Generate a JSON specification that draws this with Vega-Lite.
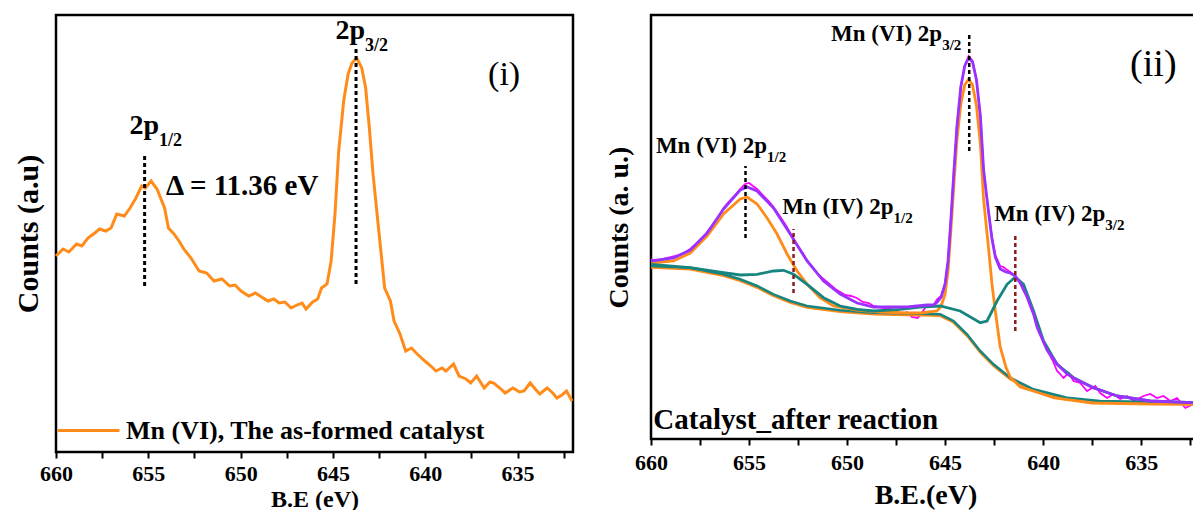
{
  "$schema": "https://vega.github.io/schema/vega-lite/v6.json",
  "padding": {"left": 11, "top": 13, "right": 0, "bottom": 0},
  "spacing": 23,
  "config": {
    "view": {"stroke": "black", "strokeWidth": 2.5},
    "axis": {"labelFont": "Liberation Serif", "titleFont": "Liberation Serif", "labelFontWeight": "bold", "titleFontWeight": "bold", "labelColor": "black", "titleColor": "black", "tickColor": "black", "grid": false, "domain": false},
    "text": {"font": "Liberation Serif", "fontWeight": "bold", "color": "black"}
  },
  "datasets": {
    "left": [
      {"eV":660.0,"c":196},{"eV":659.62,"c":203},{"eV":659.3,"c":200},{"eV":658.89,"c":208},{"eV":658.6,"c":206},{"eV":658.27,"c":214},{"eV":657.9,"c":219},{"eV":657.64,"c":223},{"eV":657.3,"c":221},{"eV":657.02,"c":224},{"eV":656.71,"c":238},{"eV":656.3,"c":236},{"eV":655.99,"c":244},{"eV":655.67,"c":254},{"eV":655.36,"c":266},{"eV":655.16,"c":264},{"eV":654.85,"c":271},{"eV":654.53,"c":263},{"eV":654.12,"c":244},{"eV":653.91,"c":224},{"eV":653.61,"c":218},{"eV":653.3,"c":210},{"eV":653.08,"c":203},{"eV":652.69,"c":194},{"eV":652.25,"c":181},{"eV":651.84,"c":179},{"eV":651.44,"c":171},{"eV":651.01,"c":173},{"eV":650.60,"c":166},{"eV":650.3,"c":167},{"eV":649.98,"c":161},{"eV":649.56,"c":156},{"eV":649.2,"c":159},{"eV":648.95,"c":156},{"eV":648.52,"c":151},{"eV":648.2,"c":153},{"eV":647.92,"c":149},{"eV":647.6,"c":150},{"eV":647.27,"c":144},{"eV":646.95,"c":147},{"eV":646.67,"c":149},{"eV":646.46,"c":143},{"eV":646.1,"c":150},{"eV":645.83,"c":153},{"eV":645.62,"c":164},{"eV":645.32,"c":168},{"eV":645.10,"c":191},{"eV":644.89,"c":238},{"eV":644.69,"c":301},{"eV":644.42,"c":351},{"eV":644.18,"c":378},{"eV":643.97,"c":389},{"eV":643.71,"c":394},{"eV":643.44,"c":384},{"eV":643.23,"c":364},{"eV":643.03,"c":324},{"eV":642.83,"c":278},{"eV":642.50,"c":218},{"eV":642.20,"c":164},{"eV":641.89,"c":151},{"eV":641.69,"c":131},{"eV":641.37,"c":118},{"eV":641.06,"c":101},{"eV":640.75,"c":104},{"eV":640.44,"c":98},{"eV":640.02,"c":91},{"eV":639.7,"c":86},{"eV":639.42,"c":81},{"eV":639.1,"c":84},{"eV":638.88,"c":81},{"eV":638.47,"c":88},{"eV":638.17,"c":76},{"eV":637.8,"c":73},{"eV":637.54,"c":69},{"eV":637.22,"c":76},{"eV":636.81,"c":64},{"eV":636.5,"c":70},{"eV":636.29,"c":69},{"eV":635.9,"c":63},{"eV":635.68,"c":59},{"eV":635.25,"c":64},{"eV":634.9,"c":60},{"eV":634.65,"c":61},{"eV":634.32,"c":69},{"eV":634.0,"c":62},{"eV":633.80,"c":58},{"eV":633.40,"c":64},{"eV":633.1,"c":59},{"eV":632.87,"c":54},{"eV":632.6,"c":57},{"eV":632.35,"c":61},{"eV":632.05,"c":51}
    ],
    "leftRules": [{"eV":655.2,"c":166,"c2":299},{"eV":643.75,"c":168,"c2":403}],
    "leftPeaks": [{"eV":654.42,"c":318,"t":"2p","s":"1/2"},{"eV":643.26,"c":413,"t":"2p","s":"3/2"}],
    "leftDelta": [{"eV":654.04,"c":257,"t":"Δ = 11.36 eV"}],
    "leftTag": [{"eV":635.73,"c":367,"t":"(i)"}],
    "raw": [
      {"eV":660.0,"c":180},{"eV":659.7,"c":178},{"eV":659.4,"c":180},{"eV":659.0,"c":182},{"eV":658.6,"c":184},{"eV":658.3,"c":186},{"eV":658.0,"c":190},{"eV":657.7,"c":195},{"eV":657.4,"c":200},{"eV":657.14,"c":207},{"eV":656.8,"c":215},{"eV":656.5,"c":224},{"eV":656.3,"c":231},{"eV":656.0,"c":238},{"eV":655.7,"c":244},{"eV":655.45,"c":250},{"eV":655.2,"c":255},{"eV":655.0,"c":256},{"eV":654.8,"c":253},{"eV":654.59,"c":250},{"eV":654.3,"c":244},{"eV":654.0,"c":238},{"eV":653.75,"c":232},{"eV":653.4,"c":222},{"eV":653.1,"c":213},{"eV":652.9,"c":206},{"eV":652.6,"c":196},{"eV":652.3,"c":187},{"eV":652.04,"c":179},{"eV":651.8,"c":173},{"eV":651.5,"c":165},{"eV":651.2,"c":160},{"eV":650.9,"c":155},{"eV":650.6,"c":150},{"eV":650.35,"c":147},{"eV":650.1,"c":144},{"eV":649.8,"c":143},{"eV":649.5,"c":141},{"eV":649.2,"c":137},{"eV":648.9,"c":136},{"eV":648.65,"c":133},{"eV":648.4,"c":132},{"eV":648.1,"c":131},{"eV":647.8,"c":130},{"eV":647.5,"c":128},{"eV":647.2,"c":125},{"eV":646.94,"c":127},{"eV":646.7,"c":122},{"eV":646.4,"c":121},{"eV":646.2,"c":126},{"eV":645.92,"c":134},{"eV":645.59,"c":134},{"eV":645.4,"c":140},{"eV":645.2,"c":143},{"eV":645.0,"c":156},{"eV":644.85,"c":178},{"eV":644.7,"c":221},{"eV":644.55,"c":268},{"eV":644.4,"c":312},{"eV":644.2,"c":352},{"eV":644.0,"c":373},{"eV":643.8,"c":383},{"eV":643.6,"c":378},{"eV":643.4,"c":359},{"eV":643.2,"c":323},{"eV":643.04,"c":270},{"eV":642.9,"c":246},{"eV":642.79,"c":228},{"eV":642.61,"c":202},{"eV":642.44,"c":184},{"eV":642.19,"c":173},{"eV":642.02,"c":172},{"eV":641.9,"c":170},{"eV":641.68,"c":167},{"eV":641.42,"c":163},{"eV":641.17,"c":156},{"eV":640.82,"c":142},{"eV":640.49,"c":125},{"eV":640.31,"c":112},{"eV":639.98,"c":97},{"eV":639.8,"c":89},{"eV":639.5,"c":78},{"eV":639.29,"c":68},{"eV":639.13,"c":65},{"eV":638.96,"c":61},{"eV":638.7,"c":66},{"eV":638.45,"c":58},{"eV":638.11,"c":56},{"eV":637.76,"c":48},{"eV":637.34,"c":53},{"eV":637.09,"c":46},{"eV":636.74,"c":41},{"eV":636.41,"c":45},{"eV":636.07,"c":40},{"eV":635.72,"c":43},{"eV":635.39,"c":38},{"eV":634.88,"c":43},{"eV":634.54,"c":45},{"eV":634.19,"c":41},{"eV":633.86,"c":43},{"eV":633.52,"c":38},{"eV":633.17,"c":41},{"eV":632.75,"c":31},{"eV":632.34,"c":35},{"eV":632.0,"c":36}
    ],
    "env": [
      {"eV":660.0,"c":178},{"eV":658.85,"c":181},{"eV":658.0,"c":189},{"eV":657.14,"c":206},{"eV":656.30,"c":230},{"eV":655.45,"c":249},{"eV":655.10,"c":252},{"eV":654.59,"c":248},{"eV":653.75,"c":231},{"eV":652.90,"c":205},{"eV":652.04,"c":178},{"eV":651.20,"c":158},{"eV":650.35,"c":145},{"eV":649.49,"c":136},{"eV":648.65,"c":132},{"eV":646.94,"c":132},{"eV":645.92,"c":134},{"eV":645.59,"c":134},{"eV":645.4,"c":137},{"eV":645.2,"c":142},{"eV":645.0,"c":155},{"eV":644.85,"c":178},{"eV":644.7,"c":221},{"eV":644.55,"c":268},{"eV":644.4,"c":312},{"eV":644.2,"c":352},{"eV":644.0,"c":373},{"eV":643.8,"c":381},{"eV":643.6,"c":377},{"eV":643.4,"c":359},{"eV":643.2,"c":323},{"eV":643.04,"c":270},{"eV":642.9,"c":246},{"eV":642.79,"c":228},{"eV":642.61,"c":200},{"eV":642.44,"c":182},{"eV":642.19,"c":170},{"eV":641.9,"c":167},{"eV":641.68,"c":166},{"eV":641.42,"c":163},{"eV":641.17,"c":156},{"eV":640.82,"c":142},{"eV":640.49,"c":125},{"eV":640.31,"c":112},{"eV":639.98,"c":97},{"eV":639.8,"c":89},{"eV":639.29,"c":75},{"eV":638.78,"c":65},{"eV":638.45,"c":61},{"eV":637.43,"c":51},{"eV":637.09,"c":49},{"eV":636.23,"c":43},{"eV":634.54,"c":38},{"eV":632.34,"c":36.3},{"eV":632.0,"c":36}
    ],
    "vi": [
      {"eV":660.0,"c":176},{"eV":658.85,"c":178},{"eV":658.0,"c":186},{"eV":657.14,"c":203},{"eV":656.30,"c":225},{"eV":655.45,"c":240},{"eV":655.10,"c":242},{"eV":654.59,"c":235},{"eV":654.08,"c":221},{"eV":653.57,"c":205},{"eV":653.06,"c":185},{"eV":652.55,"c":168},{"eV":652.04,"c":155},{"eV":651.37,"c":141},{"eV":650.69,"c":133},{"eV":649.49,"c":129},{"eV":648.31,"c":127},{"eV":646.94,"c":126},{"eV":646.27,"c":126},{"eV":645.41,"c":128},{"eV":645.2,"c":133},{"eV":645.0,"c":145},{"eV":644.85,"c":168},{"eV":644.7,"c":210},{"eV":644.55,"c":255},{"eV":644.4,"c":298},{"eV":644.2,"c":335},{"eV":644.0,"c":354},{"eV":643.8,"c":360},{"eV":643.6,"c":354},{"eV":643.4,"c":333},{"eV":643.2,"c":295},{"eV":643.04,"c":240},{"eV":642.9,"c":213},{"eV":642.79,"c":192},{"eV":642.61,"c":155},{"eV":642.44,"c":128},{"eV":642.19,"c":92},{"eV":641.9,"c":72},{"eV":641.68,"c":62},{"eV":641.17,"c":52},{"eV":640.5,"c":48},{"eV":639.43,"c":41},{"eV":637.49,"c":36},{"eV":634.5,"c":35},{"eV":632.0,"c":34.5}
    ],
    "iv": [
      {"eV":660.0,"c":174.7},{"eV":658.0,"c":171.3},{"eV":656.30,"c":166.3},{"eV":655.45,"c":164},{"eV":654.59,"c":164.7},{"eV":653.75,"c":168},{"eV":653.24,"c":168.7},{"eV":652.73,"c":164.7},{"eV":652.04,"c":154.7},{"eV":651.20,"c":141.3},{"eV":650.35,"c":133},{"eV":649.49,"c":129.7},{"eV":648.65,"c":128},{"eV":647.29,"c":129.7},{"eV":646.27,"c":132},{"eV":645.25,"c":133},{"eV":644.23,"c":128},{"eV":643.21,"c":116.3},{"eV":642.86,"c":118},{"eV":642.35,"c":138},{"eV":641.84,"c":154.7},{"eV":641.42,"c":162},{"eV":641.00,"c":154.7},{"eV":640.49,"c":128},{"eV":639.98,"c":98},{"eV":639.29,"c":74.7},{"eV":638.45,"c":61.3},{"eV":637.43,"c":51.3},{"eV":636.23,"c":43},{"eV":634.54,"c":38},{"eV":632.34,"c":36.3},{"eV":632.0,"c":36}
    ],
    "bg": [
      {"eV":660.0,"c":173},{"eV":658.0,"c":171.3},{"eV":656.30,"c":164.7},{"eV":655.45,"c":159.7},{"eV":654.59,"c":153},{"eV":653.75,"c":144.7},{"eV":652.90,"c":138},{"eV":652.04,"c":133},{"eV":650.35,"c":128.7},{"eV":648.65,"c":126.3},{"eV":646.27,"c":125.3},{"eV":645.25,"c":124.7},{"eV":644.57,"c":118},{"eV":643.88,"c":104.7},{"eV":643.21,"c":88},{"eV":642.53,"c":74.7},{"eV":641.68,"c":61.3},{"eV":640.49,"c":49.7},{"eV":638.78,"c":41.3},{"eV":637.09,"c":38},{"eV":632.34,"c":36.3},{"eV":632.0,"c":36}
    ],
    "bgvi": [
      {"eV":660.0,"c":171.5},{"eV":658.0,"c":169.8},{"eV":656.30,"c":163.2},{"eV":655.45,"c":158.2},{"eV":654.59,"c":151.5},{"eV":653.75,"c":143.2},{"eV":652.90,"c":136.5},{"eV":652.04,"c":131.5},{"eV":650.35,"c":127.2},{"eV":648.65,"c":124.8},{"eV":646.27,"c":123.8},{"eV":645.25,"c":123.2},{"eV":644.57,"c":116.5},{"eV":643.88,"c":103.2},{"eV":643.21,"c":86.5},{"eV":642.53,"c":73.2},{"eV":641.68,"c":59.8},{"eV":640.49,"c":48.2},{"eV":638.78,"c":39.8},{"eV":637.09,"c":36.5},{"eV":632.34,"c":34.8},{"eV":632.0,"c":34.5}
    ],
    "rRulesBlack": [{"eV":655.18,"c":201,"c2":273},{"eV":643.77,"c":288,"c2":406}],
    "rRulesRed": [{"eV":652.73,"c":146,"c2":210},{"eV":641.42,"c":108,"c2":205}],
    "rLabels": [
      {"eV":654.08,"c":286,"t":"Mn (VI) 2p","s":"1/2"},
      {"eV":645.15,"c":398,"t":"Mn (VI) 2p","s":"3/2"},
      {"eV":647.63,"c":225,"t":"Mn (IV) 2p","s":"1/2"},
      {"eV":636.83,"c":218,"t":"Mn (IV) 2p","s":"3/2"}
    ],
    "rTag": [{"eV":634.38,"c":363,"t":"(ii)"}],
    "rSample": [{"eV":659.88,"c":10,"t":"Catalyst_after reaction"}]
  },
  "hconcat": [
    {
      "width": 517,
      "height": 437,
      "encoding": {
        "x": {"field": "eV", "type": "quantitative", "scale": {"domain": [660, 632], "nice": false, "zero": false},
          "axis": {"title": "B.E (eV)", "values": [660,657.5,655,652.5,650,647.5,645,642.5,640,637.5,635,632.5], "labelExpr": "datum.value % 5 === 0 ? datum.value : ''", "labelOverlap": false, "labelFlush": false, "tickSize": 6, "tickWidth": 2, "labelFontSize": 22, "labelPadding": 5, "titleFontSize": 24, "titlePadding": 3}},
        "y": {"field": "c", "type": "quantitative", "scale": {"domain": [0, 437], "nice": false},
          "axis": {"title": "Counts (a.u)", "labels": false, "ticks": false, "titleFontSize": 30, "titlePadding": 13}}
      },
      "layer": [
        {"data": {"name": "left"}, "mark": {"type": "line", "strokeWidth": 3},
          "encoding": {"color": {"datum": "Mn (VI), The as-formed catalyst", "scale": {"range": ["#ff8c1a"]},
            "legend": {"title": null, "orient": "none", "legendX": 0, "legendY": 383, "symbolType": "stroke", "symbolSize": 3844, "symbolStrokeWidth": 3, "labelFont": "Liberation Serif", "labelFontWeight": "bold", "labelFontSize": 26, "labelColor": "black", "labelOffset": 5, "labelLimit": 600, "padding": 0}}}},
        {"data": {"name": "leftRules"}, "mark": {"type": "rule", "color": "black", "strokeWidth": 3, "strokeDash": [4, 3]}, "encoding": {"y2": {"field": "c2"}}},
        {"data": {"name": "leftPeaks"}, "mark": {"type": "text", "align": "right", "baseline": "alphabetic", "fontSize": 28}, "encoding": {"text": {"field": "t"}}},
        {"data": {"name": "leftPeaks"}, "mark": {"type": "text", "align": "left", "baseline": "alphabetic", "fontSize": 18, "dy": 12}, "encoding": {"text": {"field": "s"}}},
        {"data": {"name": "leftDelta"}, "mark": {"type": "text", "align": "left", "baseline": "alphabetic", "fontSize": 29}, "encoding": {"text": {"field": "t"}}},
        {"data": {"name": "leftTag"}, "mark": {"type": "text", "align": "center", "baseline": "alphabetic", "fontSize": 34, "fontWeight": "normal"}, "encoding": {"text": {"field": "t"}}}
      ]
    },
    {
      "width": 549,
      "height": 424,
      "encoding": {
        "x": {"field": "eV", "type": "quantitative", "scale": {"domain": [660, 632], "nice": false, "zero": false},
          "axis": {"title": "B.E.(eV)", "values": [660,657.5,655,652.5,650,647.5,645,642.5,640,637.5,635,632.5], "labelExpr": "datum.value % 5 === 0 ? datum.value : ''", "labelOverlap": false, "labelFlush": false, "tickSize": 6, "tickWidth": 2, "labelFontSize": 22, "labelPadding": 7, "titleFontSize": 28, "titlePadding": 8}},
        "y": {"field": "c", "type": "quantitative", "scale": {"domain": [0, 424], "nice": false},
          "axis": {"title": "Counts (a. u.)", "labels": false, "ticks": false, "titleFontSize": 28, "titlePadding": 18}}
      },
      "layer": [
        {"data": {"name": "raw"}, "mark": {"type": "line", "color": "#ff00ff", "strokeWidth": 1.8}},
        {"data": {"name": "bgvi"}, "mark": {"type": "line", "color": "#ff8c1a", "strokeWidth": 2.5}},
        {"data": {"name": "bg"}, "mark": {"type": "line", "color": "#17857f", "strokeWidth": 2.5}},
        {"data": {"name": "vi"}, "mark": {"type": "line", "color": "#ff8c1a", "strokeWidth": 2.8}},
        {"data": {"name": "iv"}, "mark": {"type": "line", "color": "#17857f", "strokeWidth": 2.8}},
        {"data": {"name": "env"}, "mark": {"type": "line", "color": "#9932ff", "strokeWidth": 2.8}},
        {"data": {"name": "rRulesBlack"}, "mark": {"type": "rule", "color": "black", "strokeWidth": 2.5, "strokeDash": [4, 3]}, "encoding": {"y2": {"field": "c2"}}},
        {"data": {"name": "rRulesRed"}, "mark": {"type": "rule", "color": "#8b1c1c", "strokeWidth": 2.5, "strokeDash": [4, 3]}, "encoding": {"y2": {"field": "c2"}}},
        {"data": {"name": "rLabels"}, "mark": {"type": "text", "align": "right", "baseline": "alphabetic", "fontSize": 23}, "encoding": {"text": {"field": "t"}}},
        {"data": {"name": "rLabels"}, "mark": {"type": "text", "align": "left", "baseline": "alphabetic", "fontSize": 15, "dy": 9}, "encoding": {"text": {"field": "s"}}},
        {"data": {"name": "rTag"}, "mark": {"type": "text", "align": "center", "baseline": "alphabetic", "fontSize": 38, "fontWeight": "normal"}, "encoding": {"text": {"field": "t"}}},
        {"data": {"name": "rSample"}, "mark": {"type": "text", "align": "left", "baseline": "alphabetic", "fontSize": 29}, "encoding": {"text": {"field": "t"}}}
      ]
    }
  ]
}
